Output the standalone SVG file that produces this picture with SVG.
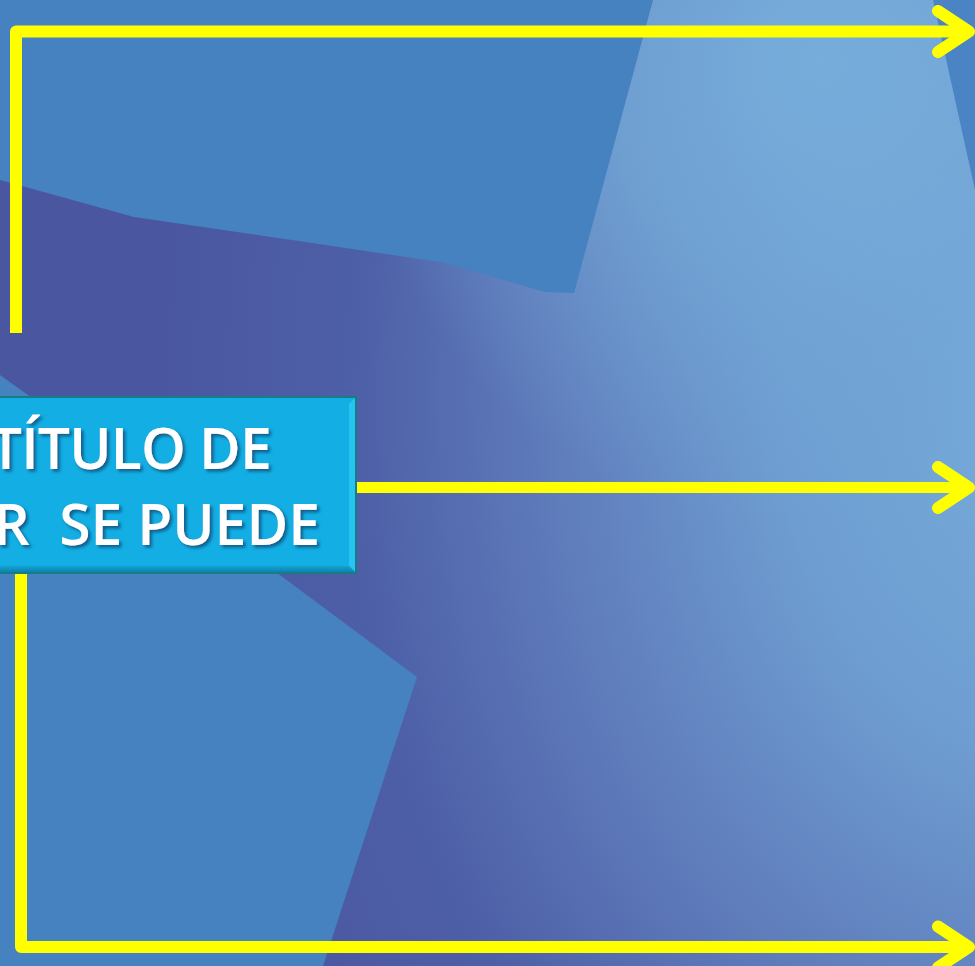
<svg xmlns="http://www.w3.org/2000/svg" width="975" height="966" viewBox="0 0 975 966">
  <defs>
    <radialGradient id="bg" gradientUnits="userSpaceOnUse" cx="1050" cy="400" r="900" gradientTransform="translate(1050 400) scale(1 1.333) translate(-1050 -400)">
      <stop offset="0" stop-color="#76addb"/>
      <stop offset="0.3" stop-color="#6e9dd1"/>
      <stop offset="0.55" stop-color="#5f7cbb"/>
      <stop offset="0.78" stop-color="#4d5fa7"/>
      <stop offset="1" stop-color="#4a56a0"/>
    </radialGradient>
    <radialGradient id="topLight" gradientUnits="userSpaceOnUse" cx="820" cy="60" r="470">
      <stop offset="0" stop-color="#76addb" stop-opacity="1"/>
      <stop offset="0.45" stop-color="#74a9d8" stop-opacity="0.75"/>
      <stop offset="1" stop-color="#70a2d4" stop-opacity="0"/>
    </radialGradient>
    <linearGradient id="botBevel" x1="0" y1="0" x2="0" y2="1">
      <stop offset="0" stop-color="#12a2d4"/>
      <stop offset="1" stop-color="#0d83ad"/>
    </linearGradient>
    <filter id="shadow" x="-10%" y="-20%" width="130%" height="150%">
      <feDropShadow dx="2.5" dy="2.5" stdDeviation="1.5" flood-color="#0b4f7a" flood-opacity="0.85"/>
    </filter>
    <marker id="chev" markerUnits="userSpaceOnUse" markerWidth="70" markerHeight="70" viewBox="-50 -35 70 70" refX="0" refY="0" orient="auto" overflow="visible">
      <path d="M-31,-20.5 L0,0 L-31,20.5" fill="none" stroke="#ffff00" stroke-width="12" stroke-linecap="round" stroke-linejoin="round"/>
    </marker>
    <style>
      .conn { fill: none; stroke: #ffff00; stroke-width: 12; stroke-linejoin: round; marker-end: url(#chev); }
      .lbl { font-family: "Open Sans", "Liberation Sans", sans-serif; font-weight: 600; font-size: 57px; fill: #ffffff; text-anchor: end; }
    </style>
  </defs>

  <g id="background">
    <rect x="0" y="0" width="975" height="966" fill="url(#bg)"/>
    <rect x="0" y="0" width="975" height="966" fill="url(#topLight)"/>
    <polygon points="0,0 653,0 574,293 545,292 446,263 312,243 134,217 0,180" fill="#4681c0"/>
    <polygon points="933,0 975,0 975,190" fill="#4a84c4"/>
    <polygon points="0,375 280,575 417,677 323,966 0,966" fill="#4681c0"/>
  </g>

  <g id="connectors">
    <path class="conn" d="M16,333 L16,31.5 L969,31.5"/>
    <path class="conn" d="M356,487.5 L969,487.5" style="stroke-width:11"/>
    <path class="conn" d="M21,573 L21,947 L969,947"/>
  </g>

  <g id="node-title">
    <rect x="-10" y="397" width="366" height="176" fill="#13aee4" stroke="#167d88" stroke-width="2"/>
    <polygon points="349,404 355,398 355,572 349,566" fill="#27c4f2"/>
    <polygon points="-10,566 349,566 355,572 -10,572" fill="url(#botBevel)"/>
    <g filter="url(#shadow)">
      <text class="lbl" x="271" y="469" letter-spacing="-0.8">TÍTULO DE</text>
      <text class="lbl" x="320" y="545" xml:space="preserve">R  SE PUEDE</text>
    </g>
  </g>
</svg>
